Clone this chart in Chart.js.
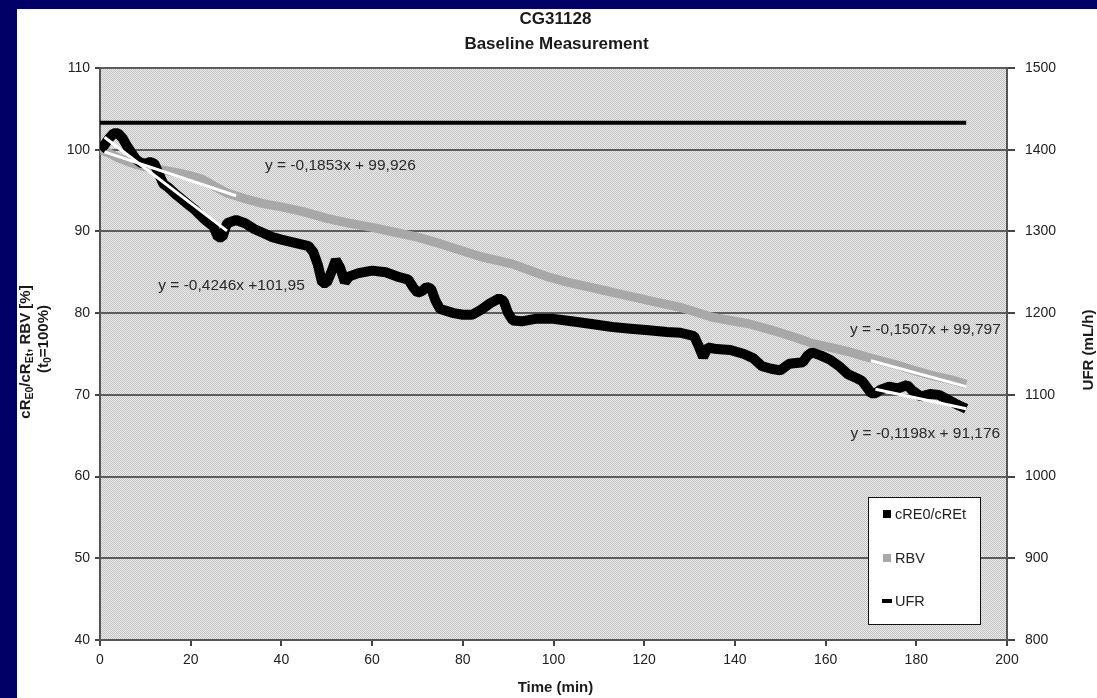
<!DOCTYPE html>
<html>
<head>
<meta charset="utf-8">
<script src="https://cdn.jsdelivr.net/npm/chart.js@4.4.1/dist/chart.umd.min.js"></script>
<style>
html, body { margin: 0; padding: 0; background: #000066; overflow: hidden; }
#chart { position: absolute; left: 0; top: 0; }
</style>
</head>
<body>
<canvas id="chart" width="1097" height="698"></canvas>
<script>
// cRE0/cREt (black)
const creTime = [0, 1, 2, 3, 4, 5, 6, 7, 8, 9, 10, 11, 12, 13, 14, 15, 17, 19, 21, 23, 25, 26, 27, 28, 30, 32, 34, 36, 38, 40, 43, 46, 47, 48, 49, 50, 51, 52, 53, 54, 55, 57, 60, 63, 66, 68, 69, 70, 71, 72, 73, 74, 75, 78, 80, 82, 84, 86, 88, 89, 90, 91, 93, 96, 100, 104, 108, 113, 117, 121, 125, 128, 131, 132, 133, 134, 136, 139, 142, 144, 146, 148, 150, 152, 155, 156, 157, 159, 161, 163, 165, 167, 168, 169, 170, 171, 172, 174, 176, 178, 179, 181, 183, 185, 187, 189, 191];
const creValue = [100.0, 100.6, 101.4, 102.0, 102.0, 101.4, 100.4, 99.6, 98.8, 98.4, 98.3, 98.5, 98.3, 97.0, 95.8, 95.4, 94.4, 93.5, 92.6, 91.5, 90.6, 89.3, 89.3, 91.0, 91.4, 91.0, 90.3, 89.8, 89.3, 89.0, 88.6, 88.2, 87.5, 86.0, 83.7, 83.7, 85.0, 86.5, 85.5, 83.8, 84.5, 84.9, 85.2, 85.0, 84.4, 84.1, 83.2, 82.5, 82.7, 83.2, 83.0, 81.5, 80.5, 80.0, 79.8, 79.8, 80.4, 81.2, 81.8, 81.5, 80.0, 79.1, 79.0, 79.3, 79.3, 79.0, 78.7, 78.3, 78.1, 77.9, 77.7, 77.6, 77.2, 76.0, 74.6, 75.8, 75.6, 75.5, 75.0, 74.5, 73.5, 73.2, 73.0, 73.8, 74.0, 74.8, 75.2, 74.8, 74.3, 73.5, 72.5, 72.0, 71.7, 71.0, 70.2, 70.2, 70.6, 71.0, 70.8, 71.2, 70.6, 69.8, 70.1, 70.0, 69.4, 68.8, 68.3];

// RBV (grey)
const rbvTime = [0, 2, 4, 6, 8, 10, 13, 17, 20, 22.5, 25, 28, 32, 36, 40, 45, 50, 55, 60, 65, 70, 75, 80, 84, 88, 91, 95, 99, 103, 107, 111, 115, 119, 123, 128, 131, 135, 139, 143, 147, 150, 154, 157, 161, 165, 168, 172, 176, 180, 184, 188, 191];
const rbvValue = [100.0, 99.6, 99.0, 98.6, 98.2, 97.9, 97.6, 97.2, 96.8, 96.4, 95.6, 94.7, 94.0, 93.4, 93.0, 92.4, 91.6, 91.0, 90.5, 89.9, 89.3, 88.5, 87.6, 86.9, 86.4, 86.0, 85.2, 84.4, 83.8, 83.3, 82.8, 82.3, 81.8, 81.3, 80.7, 80.2, 79.5, 79.1, 78.7, 78.1, 77.6, 76.9, 76.3, 75.8, 75.3, 74.8, 74.2, 73.6, 72.9, 72.3, 71.8, 71.3];

// UFR (right axis, mL/h)
const ufrTime = [0, 191];
const ufrValue = [1433, 1433];

// linear trend lines as printed on the chart
const fitSlope = [-0.1853, -0.4246, -0.1507, -0.1198];
const fitIntercept = [99.926, 101.95, 99.797, 91.176];
const fitFrom = [1, 1, 170, 171];
const fitTo = [30, 28, 191, 191];
const fitLabel = ['y = -0,1853x + 99,926', 'y = -0,4246x +101,95', 'y = -0,1507x + 99,797', 'y = -0,1198x + 91,176'];
const fitLabelX = [53, 29, 182, 182];
const fitLabelY = [98, 83.4, 78.0, 65.3];

const xTicks = [0, 20, 40, 60, 80, 100, 120, 140, 160, 180, 200];
const leftTicks = [40, 50, 60, 70, 80, 90, 100, 110];
const rightTicks = [800, 900, 1000, 1100, 1200, 1300, 1400, 1500];

const FONT = "'Liberation Sans', Arial, sans-serif";

function pts(xs, ys) {
    return xs.map((x, i) => ({ x: x, y: ys[i] }));
}

// dotted halftone look of the plot area
function makePattern(ctx) {
    const c = document.createElement('canvas');
    c.width = 2; c.height = 2;
    const p = c.getContext('2d');
    p.fillStyle = '#ebebeb';
    p.fillRect(0, 0, 2, 2);
    p.fillStyle = '#c2c2c2';
    p.fillRect(0, 0, 1, 1);
    p.fillRect(1, 1, 1, 1);
    return ctx.createPattern(c, 'repeat');
}

const backdrop = {
    id: 'backdrop',
    beforeDraw(chart) {
        const ctx = chart.ctx;
        const a = chart.chartArea;
        ctx.save();
        ctx.fillStyle = '#000066';
        ctx.fillRect(0, 0, chart.width, chart.height);
        ctx.fillStyle = '#ffffff';
        ctx.fillRect(17, 9, chart.width - 17, chart.height - 9);
        ctx.fillStyle = makePattern(ctx);
        ctx.fillRect(a.left, a.top, a.right - a.left, a.bottom - a.top);
        ctx.restore();
    }
};

function drawRuns(ctx, runs, x, y, size) {
    // runs: [text, isSub]
    let total = 0;
    runs.forEach(r => {
        ctx.font = 'bold ' + (r[1] ? size * 0.7 : size) + 'px ' + FONT;
        total += ctx.measureText(r[0]).width;
    });
    let cx = x - total / 2;
    runs.forEach(r => {
        ctx.font = 'bold ' + (r[1] ? size * 0.7 : size) + 'px ' + FONT;
        ctx.fillText(r[0], cx, y + (r[1] ? size * 0.25 : 0));
        cx += ctx.measureText(r[0]).width;
    });
}

const texts = {
    id: 'texts',
    afterDraw(chart) {
        const ctx = chart.ctx;
        const a = chart.chartArea;
        const xs = chart.scales.x, ys = chart.scales.y;
        const mid = (a.left + a.right) / 2;
        ctx.save();
        ctx.fillStyle = '#1a1a1a';
        ctx.textBaseline = 'middle';
        ctx.textAlign = 'center';
        ctx.font = 'bold 17px ' + FONT;
        ctx.fillText('CG31128', mid + 2, 19);
        ctx.fillText('Baseline Measurement', mid + 3, 44);
        ctx.font = 'bold 15px ' + FONT;
        ctx.fillText('Time (min)', mid + 2, 688);

        // left axis title with subscripts
        ctx.textAlign = 'left';
        ctx.save();
        ctx.translate(26, 352);
        ctx.rotate(-Math.PI / 2);
        drawRuns(ctx, [['cR', false], ['E0', true], ['/cR', false], ['Et', true], [', RBV [%]', false]], 0, 0, 15);
        ctx.restore();
        ctx.save();
        ctx.translate(44, 339);
        ctx.rotate(-Math.PI / 2);
        drawRuns(ctx, [['(t', false], ['0', true], ['=100%)', false]], 0, 0, 15);
        ctx.restore();

        ctx.save();
        ctx.translate(1089, 350);
        ctx.rotate(-Math.PI / 2);
        ctx.textAlign = 'center';
        ctx.font = 'bold 15px ' + FONT;
        ctx.fillText('UFR (mL/h)', 0, 0);
        ctx.restore();

        // trend equations
        ctx.textAlign = 'center';
        ctx.font = '15.5px ' + FONT;
        ctx.fillStyle = '#2a2a2a';
        fitLabel.forEach((t, i) => {
            ctx.fillText(t, xs.getPixelForValue(fitLabelX[i]), ys.getPixelForValue(fitLabelY[i]));
        });

        // legend box
        const lx = a.left + 768, ly = a.top + 429;
        ctx.fillStyle = '#ffffff';
        ctx.fillRect(lx, ly, 112, 127);
        ctx.strokeStyle = '#111';
        ctx.lineWidth = 1;
        ctx.strokeRect(lx + 0.5, ly + 0.5, 112, 127);
        ctx.textAlign = 'left';
        ctx.font = '14.5px ' + FONT;
        ctx.fillStyle = '#000';
        ctx.fillRect(lx + 15, ly + 13, 8, 8);
        ctx.fillStyle = '#a8a8a8';
        ctx.fillRect(lx + 15, ly + 57, 8, 8);
        ctx.fillStyle = '#000';
        ctx.fillRect(lx + 14, ly + 102, 10, 4);
        ctx.fillStyle = '#222';
        ctx.fillText('cRE0/cREt', lx + 27, ly + 18);
        ctx.fillText('RBV', lx + 27, ly + 62);
        ctx.fillText('UFR', lx + 27, ly + 105);
        ctx.restore();
    }
};

const fitSets = fitSlope.map((s, i) => ({
    label: 'fit' + i,
    data: [
        { x: fitFrom[i], y: s * fitFrom[i] + fitIntercept[i] },
        { x: fitTo[i], y: s * fitTo[i] + fitIntercept[i] }
    ],
    borderColor: '#ffffff',
    borderWidth: 3,
    pointRadius: 0,
    yAxisID: 'y',
    order: 0
}));

const tickFont = { family: FONT, size: 14 };

new Chart(document.getElementById('chart'), {
    type: 'line',
    data: {
        datasets: [
            ...fitSets,
            {
                label: 'cRE0/cREt',
                data: pts(creTime, creValue),
                borderColor: '#000000',
                borderWidth: 10,
                borderJoinStyle: 'bevel',
                pointRadius: 0,
                yAxisID: 'y',
                order: 1
            },
            {
                label: 'RBV',
                data: pts(rbvTime, rbvValue),
                borderColor: '#a8a8a8',
                borderWidth: 9,
                borderJoinStyle: 'bevel',
                pointRadius: 0,
                yAxisID: 'y',
                order: 2
            },
            {
                label: 'UFR',
                data: pts(ufrTime, ufrValue),
                borderColor: '#000000',
                borderWidth: 4,
                pointRadius: 0,
                yAxisID: 'y1',
                order: 3
            }
        ]
    },
    options: {
        responsive: false,
        animation: false,
        devicePixelRatio: 1,
        layout: { padding: { top: 68, left: 0, right: 0, bottom: 0 } },
        plugins: {
            legend: { display: false },
            tooltip: { enabled: false }
        },
        elements: { line: { tension: 0 } },
        scales: {
            x: {
                type: 'linear',
                min: 0,
                max: 200,
                afterFit: s => { s.height = 58; },
                afterBuildTicks: s => { s.ticks = xTicks.map(v => ({ value: v })); },
                ticks: { font: tickFont, color: '#222', padding: 6, maxRotation: 0, callback: v => String(v) },
                grid: { drawOnChartArea: false, tickLength: 6, tickColor: '#444', lineWidth: 2 },
                border: { color: '#555', width: 2 }
            },
            y: {
                position: 'left',
                min: 40,
                max: 110,
                afterFit: s => { s.width = 100; },
                afterBuildTicks: s => { s.ticks = leftTicks.map(v => ({ value: v })); },
                ticks: { font: tickFont, color: '#222', padding: 5, callback: v => String(v) },
                grid: { color: '#5c5c5c', lineWidth: 2, tickLength: 5, tickColor: '#444' },
                border: { color: '#555', width: 2 }
            },
            y1: {
                position: 'right',
                min: 800,
                max: 1500,
                afterFit: s => { s.width = 90; },
                afterBuildTicks: s => { s.ticks = rightTicks.map(v => ({ value: v })); },
                ticks: { font: tickFont, color: '#222', padding: 10, callback: v => String(v) },
                grid: { drawOnChartArea: false, lineWidth: 2, tickLength: 8, tickColor: '#444' },
                border: { color: '#555', width: 2 }
            }
        }
    },
    plugins: [backdrop, texts]
});
</script>
</body>
</html>
